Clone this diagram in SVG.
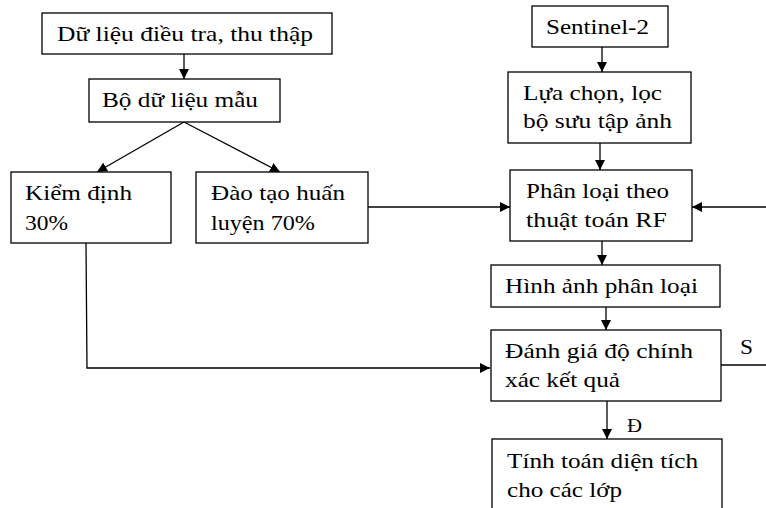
<svg xmlns="http://www.w3.org/2000/svg" width="766" height="508" viewBox="0 0 766 508">
<defs>
<marker id="ah" viewBox="0 0 10 10" refX="10" refY="5" markerWidth="10" markerHeight="10" markerUnits="userSpaceOnUse" orient="auto">
<path d="M0,0 L10,5 L0,10 z" fill="#000"/>
</marker>
<style>
.b{fill:#fff;stroke:#000;stroke-width:1.3}
.t{font-family:"Liberation Serif","Times New Roman",serif;font-size:22px;fill:#000}
.c{fill:none;stroke:#000;stroke-width:1.3}
.a{marker-end:url(#ah)}
</style>
</defs>
<rect width="766" height="508" fill="#fff"/>
<g id="connectors">
<path class="c a" d="M184,54 V79"/>
<path class="c a" d="M184,122 L97,172"/>
<path class="c a" d="M184,122 L280,172"/>
<path class="c a" d="M86,243 L87,368 H490"/>
<path class="c a" d="M368,207 H510"/>
<path class="c a" d="M602,47 V72"/>
<path class="c a" d="M600,143 V170"/>
<path class="c a" d="M766,207 H692"/>
<path class="c a" d="M602,241 V265"/>
<path class="c a" d="M606,307 V330"/>
<path class="c" d="M721,365 H766"/>
<path class="c a" d="M607,401 V439"/>
<text class="t" x="740" y="354" textLength="13" lengthAdjust="spacingAndGlyphs" style="font-size:20px">S</text>
<text class="t" x="627" y="432" textLength="15" lengthAdjust="spacingAndGlyphs" style="font-size:18px">Đ</text>
</g>
<g id="n1"><rect class="b" x="42" y="13" width="290" height="41"/><text class="t" x="57" y="41" textLength="256" lengthAdjust="spacingAndGlyphs">Dữ liệu điều tra, thu thập</text></g>
<g id="n2"><rect class="b" x="89" y="79" width="191" height="43"/><text class="t" x="102" y="107" textLength="156" lengthAdjust="spacingAndGlyphs">Bộ dữ liệu mẫu</text></g>
<g id="n3"><rect class="b" x="11" y="172" width="160" height="71"/><text class="t" x="25" y="200" textLength="107" lengthAdjust="spacingAndGlyphs">Kiểm định</text><text class="t" x="25" y="230" textLength="43" lengthAdjust="spacingAndGlyphs">30%</text></g>
<g id="n4"><rect class="b" x="196" y="172" width="172" height="71"/><text class="t" x="211" y="200" textLength="134" lengthAdjust="spacingAndGlyphs">Đào tạo huấn</text><text class="t" x="211" y="230" textLength="104" lengthAdjust="spacingAndGlyphs">luyện 70%</text></g>
<g id="n5"><rect class="b" x="532" y="6" width="136" height="41"/><text class="t" x="546" y="34" textLength="103" lengthAdjust="spacingAndGlyphs">Sentinel-2</text></g>
<g id="n6"><rect class="b" x="508" y="72" width="183" height="71"/><text class="t" x="523" y="100" textLength="139" lengthAdjust="spacingAndGlyphs">Lựa chọn, lọc</text><text class="t" x="523" y="128" textLength="149" lengthAdjust="spacingAndGlyphs">bộ sưu tập ảnh</text></g>
<g id="n7"><rect class="b" x="510" y="170" width="182" height="71"/><text class="t" x="526" y="198" textLength="143" lengthAdjust="spacingAndGlyphs">Phân loại theo</text><text class="t" x="526" y="227" textLength="141" lengthAdjust="spacingAndGlyphs">thuật toán RF</text></g>
<g id="n8"><rect class="b" x="491" y="265" width="229" height="42"/><text class="t" x="505" y="293" textLength="193" lengthAdjust="spacingAndGlyphs">Hình ảnh phân loại</text></g>
<g id="n9"><rect class="b" x="491" y="330" width="230" height="71"/><text class="t" x="505" y="358" textLength="188" lengthAdjust="spacingAndGlyphs">Đánh giá độ chính</text><text class="t" x="505" y="387" textLength="115" lengthAdjust="spacingAndGlyphs">xác kết quả</text></g>
<g id="n10"><rect class="b" x="492" y="439" width="230" height="80"/><text class="t" x="507" y="468" textLength="191" lengthAdjust="spacingAndGlyphs">Tính toán diện tích</text><text class="t" x="507" y="497" textLength="115" lengthAdjust="spacingAndGlyphs">cho các lớp</text></g>
</svg>
